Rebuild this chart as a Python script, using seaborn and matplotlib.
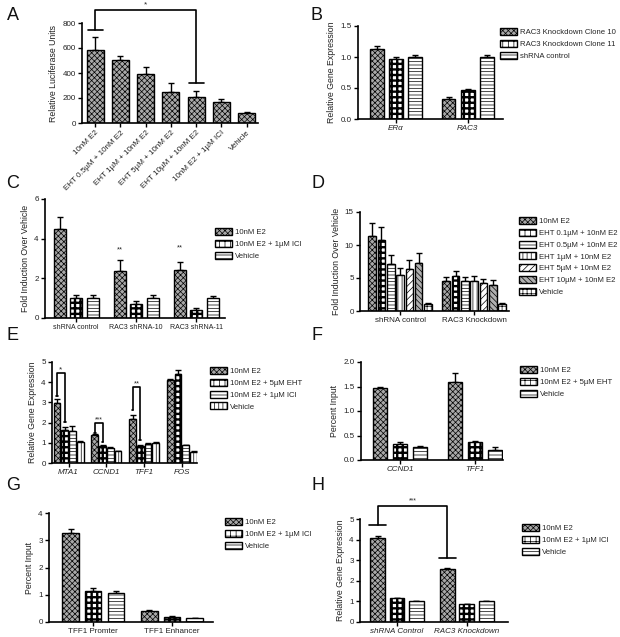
import numpy as np
import pandas as pd
import matplotlib
matplotlib.use("Agg")
import matplotlib.pyplot as plt
import matplotlib.patches as mpatches
import seaborn as sns

# ---------------- data ----------------
A_labels = ['10nM E2', 'EHT 0.5µM + 10nM E2', 'EHT 1µM + 10nM E2', 'EHT 5µM + 10nM E2',
            'EHT 10µM + 10nM E2', '10nM E2 + 1µM ICI', 'Vehicle']
A_values = [585, 505, 395, 245, 210, 165, 80]
A_errors = [105, 30, 55, 75, 45, 30, 5]

B_genes = ['ERα', 'RAC3']
B_series = ['RAC3 Knockdown Clone 10', 'RAC3 Knockdown Clone 11', 'shRNA control']
B_values = [[1.13, 0.32], [0.97, 0.47], [1.00, 1.00]]
B_errors = [[0.04, 0.04], [0.03, 0.01], [0.04, 0.04]]

C_groups = ['shRNA control', 'RAC3 shRNA-10', 'RAC3 shRNA-11']
C_series = ['10nM E2', '10nM E2 + 1µM ICI', 'Vehicle']
C_values = [[4.5, 2.35, 2.42], [1.02, 0.70, 0.40], [1.0, 1.0, 1.0]]
C_errors = [[0.6, 0.55, 0.38], [0.13, 0.15, 0.08], [0.15, 0.15, 0.12]]

D_groups = ['shRNA control', 'RAC3 Knockdown']
D_series = ['10nM E2', 'EHT 0.1µM + 10nM E2', 'EHT 0.5µM + 10nM E2', 'EHT 1µM + 10nM E2',
            'EHT 5µM + 10nM E2', 'EHT 10µM + 10nM E2', 'Vehicle']
D_values = [[11.4, 4.5], [10.8, 5.3], [7.1, 4.5], [5.5, 4.6], [6.4, 4.3], [7.2, 4.0], [1.0, 1.0]]
D_errors = [[2.0, 0.6], [1.9, 0.8], [1.4, 0.6], [1.0, 0.7], [1.3, 0.6], [1.6, 0.7], [0.2, 0.2]]

E_genes = ['MTA1', 'CCND1', 'TFF1', 'FOS']
E_series = ['10nM E2', '10nM E2 + 5µM EHT', '10nM E2 + 1µM ICI', 'Vehicle']
E_values = [[2.95, 1.37, 2.18, 4.10], [1.62, 0.85, 0.85, 4.42],
            [1.57, 0.76, 0.93, 0.87], [1.02, 0.57, 1.00, 0.55]]
E_errors = [[0.20, 0.05, 0.20, 0.07], [0.18, 0.04, 0.03, 0.20],
            [0.25, 0.03, 0.04, 0.03], [0.08, 0.02, 0.03, 0.02]]

F_genes = ['CCND1', 'TFF1']
F_series = ['10nM E2', '10nM E2 + 5µM EHT', 'Vehicle']
F_values = [[1.46, 1.60], [0.32, 0.37], [0.27, 0.21]]
F_errors = [[0.03, 0.18], [0.05, 0.01], [0.01, 0.05]]

G_groups = ['TFF1 Promter', 'TFF1 Enhancer']
G_series = ['10nM E2', '10nM E2 + 1µM ICI', 'Vehicle']
G_values = [[3.25, 0.42], [1.15, 0.20], [1.08, 0.13]]
G_errors = [[0.18, 0.03], [0.10, 0.01], [0.05, 0.01]]

H_groups = ['shRNA Control', 'RAC3 Knockdown']
H_series = ['10nM E2', '10nM E2 + 1µM ICI', 'Vehicle']
H_values = [[4.10, 2.55], [1.15, 0.85], [1.00, 1.00]]
H_errors = [[0.08, 0.07], [0.02, 0.02], [0.03, 0.03]]

# ---------------- style ----------------
sns.set_theme(style="ticks")
plt.rcParams['font.family'] = ['Liberation Sans', 'DejaVu Sans']
plt.rcParams['hatch.linewidth'] = 0.5
plt.rcParams['hatch.color'] = 'black'

STYLES = {
    'e2': ('#a8a8a8', 'xxxxxx'),
    'chk': ('white', '+++'),
    'hz': ('white', '-----'),
    'vt': ('white', '||||'),
    'dg': ('white', '/////'),
    'dg2': ('#b0b0b0', '\\\\\\\\\\\\'),
    'grid': ('white', '++++'),
}

W, H = 620, 637
fig = plt.figure(figsize=(6.2, 6.37), dpi=100)


def rect(x0, yt, x1, yb):
    return [x0 / W, 1 - yb / H, (x1 - x0) / W, (yb - yt) / H]


def set_hlw(p, key):
    if key == 'chk' and hasattr(p, 'set_hatch_linewidth'):
        try:
            p.set_hatch_linewidth(1.7)
        except Exception:
            pass


def style_patch(p, key):
    fc, hatch = STYLES[key]
    p.set_facecolor(fc)
    p.set_hatch(hatch)
    p.set_edgecolor('black')
    p.set_linewidth(1.0)
    set_hlw(p, key)


def make_handle(key):
    fc, hatch = STYLES[key]
    h = mpatches.Patch(facecolor=fc, hatch=hatch, edgecolor='black', linewidth=1.0)
    set_hlw(h, key)
    return h


def errbars(ax, xs, vals, errs):
    ax.errorbar(xs, vals, yerr=[np.zeros(len(vals)), errs], fmt='none', ecolor='black',
                elinewidth=1.0, capsize=2.5, capthick=1.0, zorder=1)


def grouped(ax, groups, series, values, errors, styles, width, gap):
    rows = [{'group': g, 'series': s, 'value': values[i][j]}
            for i, s in enumerate(series) for j, g in enumerate(groups)]
    df = pd.DataFrame(rows)
    sns.barplot(data=df, x='group', y='value', hue='series', order=groups,
                hue_order=series, width=width, gap=gap, errorbar=None,
                legend=False, ax=ax)
    conts = list(ax.containers)
    for i, cont in enumerate(conts):
        xs = []
        for p in cont.patches:
            style_patch(p, styles[i])
            p.set_zorder(2)
            xs.append(p.get_x() + p.get_width() / 2)
        errbars(ax, xs, values[i], errors[i])


def fmt(ax, ylim, yticks, xlim, ylabel, italic=False, xsize=5.8):
    ax.set_ylim(*ylim)
    ax.set_yticks(yticks)
    ax.set_xlim(*xlim)
    sns.despine(ax=ax)
    for s in ['left', 'bottom']:
        ax.spines[s].set_linewidth(1.2)
        ax.spines[s].set_color('black')
    ax.set_xlabel('')
    ax.set_ylabel(ylabel, fontsize=6.3, color='#222222', labelpad=3)
    ax.tick_params(axis='both', direction='out', length=3, width=1.0,
                   labelsize=5.8, colors='black', labelcolor='#222222', pad=1.5)
    ax.tick_params(axis='x', labelsize=xsize)
    if italic:
        for t in ax.get_xticklabels():
            t.set_fontstyle('italic')


def legend(series, styles, x, y):
    hs = [make_handle(k) for k in styles]
    fig.legend(hs, series, loc='upper left', bbox_to_anchor=(x / W, 1 - y / H),
               frameon=False, fontsize=5.6, handlelength=2.2, handleheight=1.05,
               labelspacing=0.45, borderpad=0, borderaxespad=0, handletextpad=0.4)


def bracket(ax, x0, x1, top, l, r, text, ty, fs=6):
    kw = dict(color='black', lw=1.2, clip_on=False, zorder=5)
    ax.plot([x0, x0, x1, x1], [l, top, top, r], **kw)
    cw = 0.12 * (x1 - x0) if x1 - x0 < 2 else 0.3
    ax.plot([x0 - cw, x0 + cw], [l, l], **kw)
    ax.plot([x1 - cw, x1 + cw], [r, r], **kw)
    ax.text((x0 + x1) / 2, ty, text, ha='center', va='center', fontsize=fs,
            clip_on=False)


# ---------------- A ----------------
axA = fig.add_axes(rect(82, 23, 258, 123))
dfA = pd.DataFrame({'treatment': A_labels, 'value': A_values})
sns.barplot(data=dfA, x='treatment', y='value', order=A_labels, width=0.68,
            errorbar=None, ax=axA)
xsA = []
for p in axA.containers[0].patches:
    style_patch(p, 'e2')
    p.set_zorder(2)
    xsA.append(p.get_x() + p.get_width() / 2)
errbars(axA, xsA, A_values, A_errors)
fmt(axA, (0, 800), [0, 200, 400, 600, 800], (-0.52, 6.45), 'Relative Luciferase Units')
axA.set_xticks(range(len(A_labels)))
axA.set_xticklabels(A_labels, rotation=45, ha='right', rotation_mode='anchor', fontsize=5.8)
bracket(axA, 0, 4, 905, 745, 320, '*', 945)

# ---------------- B ----------------
axB = fig.add_axes(rect(358, 26, 503, 119))
grouped(axB, B_genes, B_series, B_values, B_errors, ['e2', 'chk', 'hz'], 0.8, 0.3)
fmt(axB, (0, 1.5), [0, 0.5, 1.0, 1.5], (-0.53, 1.49), 'Relative Gene Expression', italic=True)
legend(B_series, ['e2', 'chk', 'hz'], 500, 28)

# ---------------- C ----------------
axC = fig.add_axes(rect(45, 199, 225, 318))
grouped(axC, C_groups, C_series, C_values, C_errors, ['e2', 'chk', 'hz'], 0.82, 0.27)
fmt(axC, (0, 6), [0, 2, 4, 6], (-0.52, 2.48), 'Fold Induction Over Vehicle', xsize=5.0)
for xpos, yv in [(1 - 0.27, 3.45), (2 - 0.27, 3.55)]:
    axC.text(xpos, yv, '**', ha='center', va='center', fontsize=5.5)
legend(C_series, ['e2', 'chk', 'hz'], 215, 228)

# ---------------- D ----------------
axD = fig.add_axes(rect(360, 212, 509, 311))
D_styles = ['e2', 'chk', 'hz', 'vt', 'dg', 'dg2', 'grid']
grouped(axD, D_groups, D_series, D_values, D_errors, D_styles, 0.88, 0.18)
fmt(axD, (0, 15), [0, 5, 10, 15], (-0.54, 1.47), 'Fold Induction Over Vehicle')
legend(D_series, D_styles, 519, 217)

# ---------------- E ----------------
axE = fig.add_axes(rect(52, 362, 197, 463))
E_styles = ['e2', 'chk', 'hz', 'vt']
grouped(axE, E_genes, E_series, E_values, E_errors, E_styles, 0.82, 0.15)
fmt(axE, (0, 5), [0, 1, 2, 3, 4, 5], (-0.44, 3.4), 'Relative Gene Expression', italic=True)
eb = [p.get_x() + p.get_width() / 2 for p in axE.containers[0].patches]
eb2 = [p.get_x() + p.get_width() / 2 for p in axE.containers[1].patches]
bracket(axE, eb[0], eb2[0], 4.45, 3.3, 2.03, '*', 4.62, fs=6)
bracket(axE, eb[1], eb2[1], 1.98, 1.49, 1.04, '***', 2.15, fs=5)
bracket(axE, eb[2], eb2[2], 3.76, 2.62, 1.14, '**', 3.93, fs=5.5)
legend(E_series, E_styles, 210, 367)

# ---------------- F ----------------
axF = fig.add_axes(rect(361, 362, 503, 460))
grouped(axF, F_genes, F_series, F_values, F_errors, ['e2', 'chk', 'hz'], 0.8, 0.3)
fmt(axF, (0, 2.0), [0, 0.5, 1.0, 1.5, 2.0], (-0.52, 1.38), 'Percent Input', italic=True)
legend(F_series, ['e2', 'chk', 'hz'], 520, 366)

# ---------------- G ----------------
axG = fig.add_axes(rect(49, 513, 213, 622))
grouped(axG, G_groups, G_series, G_values, G_errors, ['e2', 'chk', 'hz'], 0.86, 0.28)
fmt(axG, (0, 4), [0, 1, 2, 3, 4], (-0.56, 1.52), 'Percent Input')
legend(G_series, ['e2', 'chk', 'hz'], 225, 518)

# ---------------- H ----------------
axH = fig.add_axes(rect(360, 519, 508, 622))
grouped(axH, H_groups, H_series, H_values, H_errors, ['e2', 'chk', 'hz'], 0.83, 0.23)
fmt(axH, (0, 5), [0, 1, 2, 3, 4, 5], (-0.53, 1.59), 'Relative Gene Expression', italic=True)
hb = [p.get_x() + p.get_width() / 2 for p in axH.containers[0].patches]
bracket(axH, hb[0], hb[1], 5.63, 4.7, 3.1, '***', 5.88, fs=5)
legend(H_series, ['e2', 'chk', 'hz'], 522, 524)

# ---------------- panel letters ----------------
for letter, x, y in [('A', 7, 15), ('B', 311, 15), ('C', 6, 184), ('D', 312, 184),
                     ('E', 6, 336), ('F', 312, 336), ('G', 6, 486), ('H', 312, 486)]:
    fig.text(x / W, 1 - y / H, letter, fontsize=13, va='center', ha='left', color='#111111')

fig.savefig('out.png', dpi=100)
